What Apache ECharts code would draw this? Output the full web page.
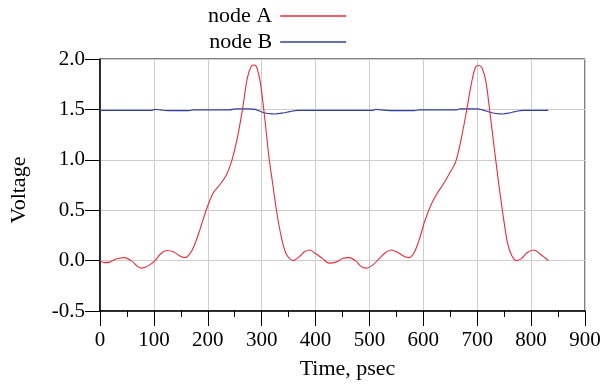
<!DOCTYPE html>
<html>
<head>
<meta charset="utf-8">
<script src="https://cdn.jsdelivr.net/npm/echarts@6/dist/echarts.min.js"></script>
<style>
  html, body { margin: 0; padding: 0; background: #fff; }
  #chart { width: 605px; height: 391px; }
</style>
</head>
<body>
<div id="chart"></div>
<script>
// node A: time (psec) and voltage
const nodeATime = [0, 8, 18, 30, 45, 58, 70, 78, 90, 102, 113, 124, 137, 150, 158, 167, 175, 185, 197, 210, 222, 235, 245, 255, 265, 273, 281, 287, 292, 298, 306, 313, 320, 328, 337, 345, 352, 359, 370, 380, 389, 400, 413, 425, 438, 450, 462, 474, 485, 494, 506, 518, 530, 540, 553, 565, 574, 583, 592, 602, 614, 626, 636, 648, 660, 670, 680, 690, 697, 703, 709, 716, 724, 732, 740, 748, 756, 764, 773, 782, 793, 805, 818, 832];
const nodeAVolt = [0.00, -0.02, -0.015, 0.015, 0.03, 0.0, -0.06, -0.075, -0.05, 0.0, 0.07, 0.10, 0.085, 0.04, 0.03, 0.07, 0.15, 0.30, 0.50, 0.67, 0.75, 0.855, 1.00, 1.22, 1.52, 1.80, 1.93, 1.94, 1.90, 1.75, 1.40, 1.05, 0.78, 0.48, 0.22, 0.07, 0.02, 0.00, 0.04, 0.09, 0.105, 0.07, 0.02, -0.025, -0.015, 0.02, 0.03, 0.0, -0.06, -0.075, -0.045, 0.02, 0.08, 0.105, 0.08, 0.04, 0.03, 0.08, 0.20, 0.38, 0.55, 0.67, 0.75, 0.86, 0.98, 1.20, 1.48, 1.78, 1.92, 1.935, 1.91, 1.78, 1.45, 1.10, 0.76, 0.45, 0.18, 0.05, 0.00, 0.02, 0.08, 0.105, 0.06, 0.00];

// node B: time (psec) and voltage
const nodeBTime = [0, 95, 102, 112, 125, 165, 173, 240, 252, 275, 288, 300, 312, 325, 340, 352, 367, 505, 512, 522, 545, 583, 592, 660, 668, 700, 710, 722, 735, 747, 760, 770, 785, 832];
const nodeBVolt = [1.49, 1.49, 1.50, 1.495, 1.488, 1.488, 1.495, 1.495, 1.505, 1.505, 1.50, 1.475, 1.46, 1.455, 1.465, 1.478, 1.49, 1.49, 1.50, 1.495, 1.488, 1.488, 1.495, 1.495, 1.505, 1.505, 1.495, 1.475, 1.46, 1.455, 1.465, 1.478, 1.49, 1.49];

const seriesNames = ['node A', 'node B'];
const seriesColors = ['#ee2a3a', '#2f3fa6'];

const font = 'Liberation Serif, Times New Roman, serif';

function zip(t, v) {
    return t.map((x, i) => [x, v[i]]);
}

const myChart = echarts.init(document.querySelector('#chart'));
const option = {
    animation: false,
    textStyle: { fontFamily: font },
    legend: {
        orient: 'vertical',
        left: 203,
        top: 0,
        align: 'right',
        itemWidth: 66,
        itemHeight: 1.5,
        itemGap: 4,
        icon: 'rect',
        textStyle: { fontFamily: font, fontSize: 22, color: '#000', padding: [0, 3, 0, 0] },
        data: seriesNames
    },
    grid: {
        left: 98,
        right: 20,
        top: 59,
        bottom: 80,
        show: true,
        borderColor: '#000',
        borderWidth: 1
    },
    xAxis: {
        type: 'value',
        min: 0,
        max: 900,
        interval: 100,
        name: 'Time, psec',
        nameLocation: 'middle',
        nameGap: 47,
        nameTextStyle: { fontFamily: font, fontSize: 22, color: '#000', padding: [0, 0, 0, 10] },
        axisLine: { onZero: false, lineStyle: { color: '#000', width: 1.5 } },
        axisTick: { show: true, inside: false, length: 15, lineStyle: { color: '#000' } },
        minorTick: { show: true, splitNumber: 2, length: 6, lineStyle: { color: '#000' } },
        axisLabel: { fontFamily: font, fontSize: 21, color: '#000', margin: 19 },
        splitLine: { show: true, lineStyle: { color: '#cdcdcd', width: 1 } }
    },
    yAxis: {
        type: 'value',
        min: -0.5,
        max: 2.0,
        interval: 0.5,
        name: 'Voltage',
        nameLocation: 'middle',
        nameGap: 70,
        nameTextStyle: { fontFamily: font, fontSize: 22, color: '#000', padding: [0, 0, 0, -10] },
        axisLine: { show: true, onZero: false, lineStyle: { color: '#000', width: 1.5 } },
        axisTick: { show: true, inside: false, length: 15, lineStyle: { color: '#000' } },
        axisLabel: {
            fontFamily: font, fontSize: 21, color: '#000', margin: 15,
            formatter: v => v.toFixed(1)
        },
        splitLine: { show: true, lineStyle: { color: '#cdcdcd', width: 1 } }
    },
    series: [
        {
            name: seriesNames[0],
            type: 'line',
            data: zip(nodeATime, nodeAVolt),
            smooth: 0.3,
            showSymbol: false,
            symbol: 'none',
            color: seriesColors[0],
            lineStyle: { width: 1.1, color: seriesColors[0] },
            z: 3
        },
        {
            name: seriesNames[1],
            type: 'line',
            data: zip(nodeBTime, nodeBVolt),
            smooth: 0.3,
            showSymbol: false,
            symbol: 'none',
            color: seriesColors[1],
            lineStyle: { width: 1.1, color: seriesColors[1] },
            z: 2
        }
    ]
};
myChart.setOption(option);
</script>
</body>
</html>
